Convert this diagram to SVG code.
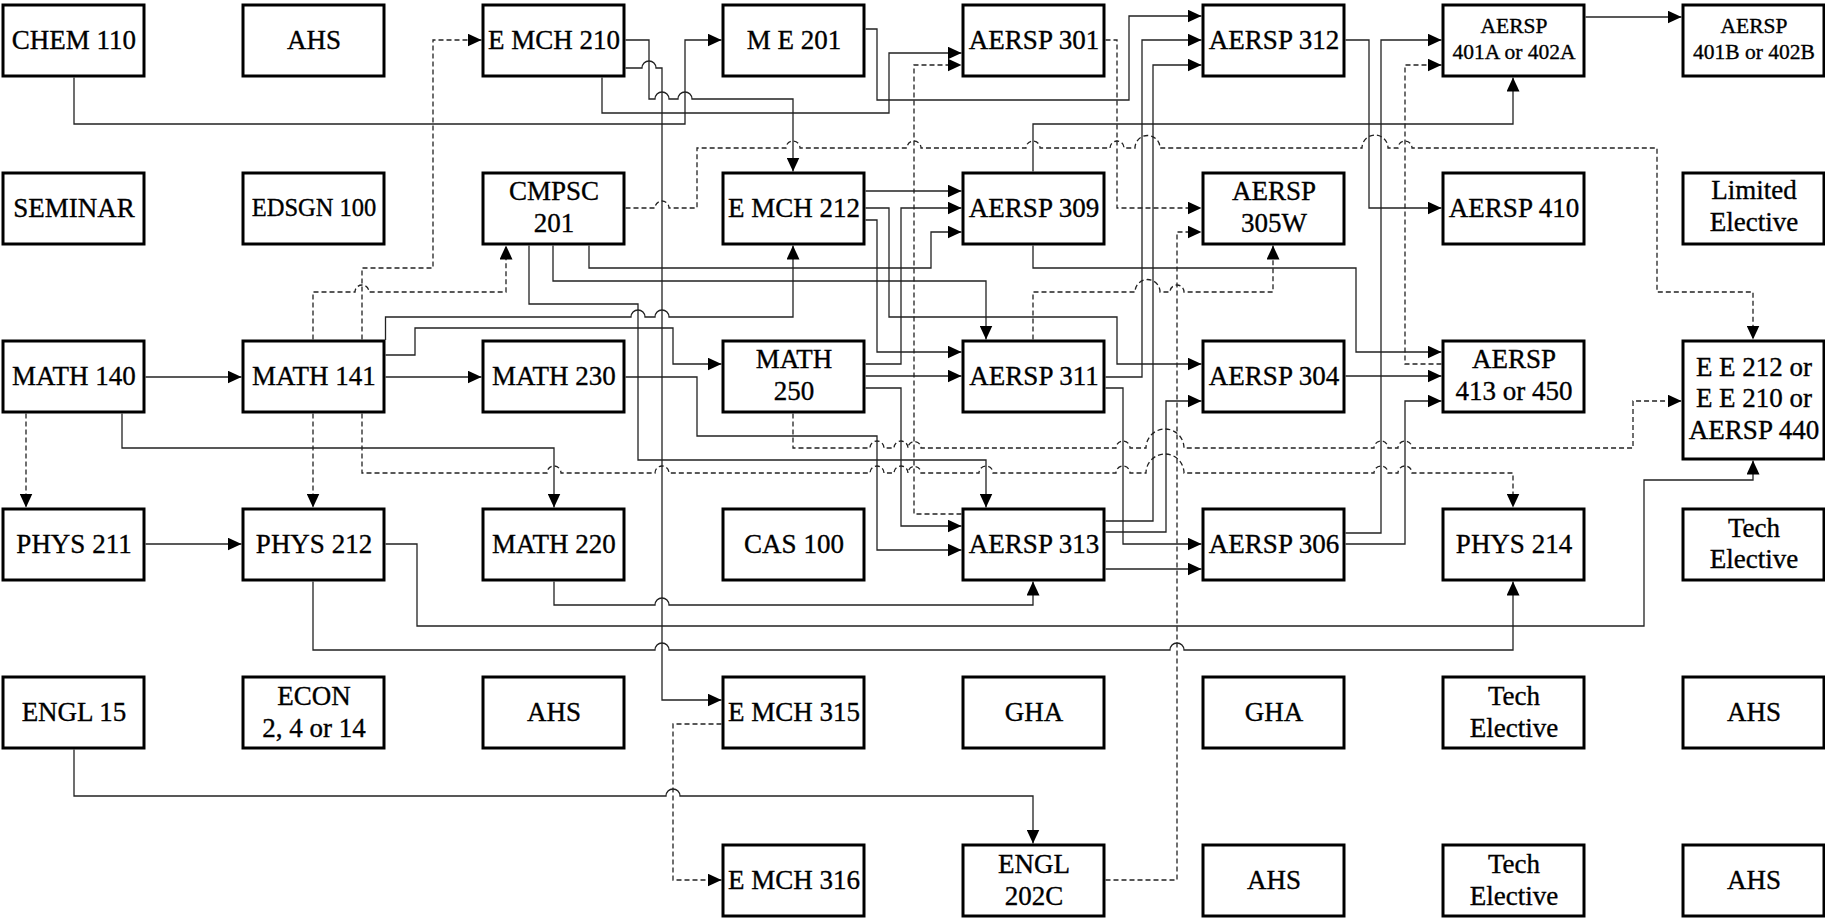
<svg xmlns="http://www.w3.org/2000/svg" width="1825" height="920" viewBox="0 0 1825 920">
<style>
.n rect{fill:#fff;stroke:#000;stroke-width:3}
.n text{font-family:'Liberation Serif','Times New Roman',Times,serif;font-size:27px;fill:#000;stroke:#000;stroke-width:0.35;text-anchor:middle}
.n text.s{font-size:21.5px}
.n text.m{font-size:24.5px}
#conn path{fill:none;stroke:#222;stroke-width:1.3}
#conn path.d{stroke-dasharray:5,3}
#conn path.a{marker-end:url(#ah)}
</style>
<defs>
<marker id="ah" markerUnits="userSpaceOnUse" markerWidth="14" markerHeight="13" refX="14" refY="6.5" orient="auto"><path d="M0,0 L14,6.5 L0,13 z" fill="#000" stroke="none"/></marker>
</defs>
<rect x="0" y="0" width="1825" height="920" fill="#fff"/>
<g id="nodes">
<g class="n" id="chem110"><rect x="3" y="5" width="141" height="71"/><text x="74" y="49">CHEM 110</text></g>
<g class="n" id="ahs1"><rect x="243" y="5" width="141" height="71"/><text x="314" y="49">AHS</text></g>
<g class="n" id="emch210"><rect x="483" y="5" width="141" height="71"/><text x="554" y="49">E MCH 210</text></g>
<g class="n" id="me201"><rect x="723" y="5" width="141" height="71"/><text x="794" y="49">M E 201</text></g>
<g class="n" id="aersp301"><rect x="963" y="5" width="141" height="71"/><text x="1034" y="49">AERSP 301</text></g>
<g class="n" id="aersp312"><rect x="1203" y="5" width="141" height="71"/><text x="1274" y="49">AERSP 312</text></g>
<g class="n" id="aersp401a"><rect x="1443" y="5" width="141" height="71"/><text class="s" x="1514" y="33">AERSP</text><text class="s" x="1514" y="59">401A or 402A</text></g>
<g class="n" id="aersp401b"><rect x="1683" y="5" width="141" height="71"/><text class="s" x="1754" y="33">AERSP</text><text class="s" x="1754" y="59">401B or 402B</text></g>

<g class="n" id="seminar"><rect x="3" y="173" width="141" height="71"/><text x="74" y="217">SEMINAR</text></g>
<g class="n" id="edsgn100"><rect x="243" y="173" width="141" height="71"/><text class="m" x="314" y="216">EDSGN 100</text></g>
<g class="n" id="cmpsc201"><rect x="483" y="173" width="141" height="71"/><text x="554" y="200">CMPSC</text><text x="554" y="232">201</text></g>
<g class="n" id="emch212"><rect x="723" y="173" width="141" height="71"/><text x="794" y="217">E MCH 212</text></g>
<g class="n" id="aersp309"><rect x="963" y="173" width="141" height="71"/><text x="1034" y="217">AERSP 309</text></g>
<g class="n" id="aersp305w"><rect x="1203" y="173" width="141" height="71"/><text x="1274" y="200">AERSP</text><text x="1274" y="232">305W</text></g>
<g class="n" id="aersp410"><rect x="1443" y="173" width="141" height="71"/><text x="1514" y="217">AERSP 410</text></g>
<g class="n" id="limited"><rect x="1683" y="173" width="141" height="71"/><text x="1754" y="199">Limited</text><text x="1754" y="231">Elective</text></g>

<g class="n" id="math140"><rect x="3" y="341" width="141" height="71"/><text x="74" y="385">MATH 140</text></g>
<g class="n" id="math141"><rect x="243" y="341" width="141" height="71"/><text x="314" y="385">MATH 141</text></g>
<g class="n" id="math230"><rect x="483" y="341" width="141" height="71"/><text x="554" y="385">MATH 230</text></g>
<g class="n" id="math250"><rect x="723" y="341" width="141" height="71"/><text x="794" y="368">MATH</text><text x="794" y="400">250</text></g>
<g class="n" id="aersp311"><rect x="963" y="341" width="141" height="71"/><text x="1034" y="385">AERSP 311</text></g>
<g class="n" id="aersp304"><rect x="1203" y="341" width="141" height="71"/><text x="1274" y="385">AERSP 304</text></g>
<g class="n" id="aersp413"><rect x="1443" y="341" width="141" height="71"/><text x="1514" y="368">AERSP</text><text x="1514" y="400">413 or 450</text></g>
<g class="n" id="ee212"><rect x="1683" y="341" width="141" height="118"/><text x="1754" y="376">E E 212 or</text><text x="1754" y="407">E E 210 or</text><text x="1754" y="439">AERSP 440</text></g>

<g class="n" id="phys211"><rect x="3" y="509" width="141" height="71"/><text x="74" y="553">PHYS 211</text></g>
<g class="n" id="phys212"><rect x="243" y="509" width="141" height="71"/><text x="314" y="553">PHYS 212</text></g>
<g class="n" id="math220"><rect x="483" y="509" width="141" height="71"/><text x="554" y="553">MATH 220</text></g>
<g class="n" id="cas100"><rect x="723" y="509" width="141" height="71"/><text x="794" y="553">CAS 100</text></g>
<g class="n" id="aersp313"><rect x="963" y="509" width="141" height="71"/><text x="1034" y="553">AERSP 313</text></g>
<g class="n" id="aersp306"><rect x="1203" y="509" width="141" height="71"/><text x="1274" y="553">AERSP 306</text></g>
<g class="n" id="phys214"><rect x="1443" y="509" width="141" height="71"/><text x="1514" y="553">PHYS 214</text></g>
<g class="n" id="tech1"><rect x="1683" y="509" width="141" height="71"/><text x="1754" y="537">Tech</text><text x="1754" y="568">Elective</text></g>

<g class="n" id="engl15"><rect x="3" y="677" width="141" height="71"/><text x="74" y="721">ENGL 15</text></g>
<g class="n" id="econ"><rect x="243" y="677" width="141" height="71"/><text x="314" y="705">ECON</text><text x="314" y="737">2, 4 or 14</text></g>
<g class="n" id="ahs2"><rect x="483" y="677" width="141" height="71"/><text x="554" y="721">AHS</text></g>
<g class="n" id="emch315"><rect x="723" y="677" width="141" height="71"/><text x="794" y="721">E MCH 315</text></g>
<g class="n" id="gha1"><rect x="963" y="677" width="141" height="71"/><text x="1034" y="721">GHA</text></g>
<g class="n" id="gha2"><rect x="1203" y="677" width="141" height="71"/><text x="1274" y="721">GHA</text></g>
<g class="n" id="tech2"><rect x="1443" y="677" width="141" height="71"/><text x="1514" y="705">Tech</text><text x="1514" y="737">Elective</text></g>
<g class="n" id="ahs3"><rect x="1683" y="677" width="141" height="71"/><text x="1754" y="721">AHS</text></g>

<g class="n" id="emch316"><rect x="723" y="845" width="141" height="71"/><text x="794" y="889">E MCH 316</text></g>
<g class="n" id="engl202c"><rect x="963" y="845" width="141" height="71"/><text x="1034" y="873">ENGL</text><text x="1034" y="905">202C</text></g>
<g class="n" id="ahs4"><rect x="1203" y="845" width="141" height="71"/><text x="1274" y="889">AHS</text></g>
<g class="n" id="tech3"><rect x="1443" y="845" width="141" height="71"/><text x="1514" y="873">Tech</text><text x="1514" y="905">Elective</text></g>
<g class="n" id="ahs5"><rect x="1683" y="845" width="141" height="71"/><text x="1754" y="889">AHS</text></g>
</g>
<g id="conn">
<path class="a" d="M74,77.5 V124 H685 V40 H721.5"/>
<path class="a" d="M625.5,40 H649 V99 H655 A7,7 0 0 1 669,99 H678 A7,7 0 0 1 692,99 H793 V171.5"/>
<path class="a" d="M625.5,68 H642 A7,7 0 0 1 656,68 H662 V700 H721.5"/>
<path class="a" d="M602,77.5 V113 H889 V53 H961.5"/>
<path class="a" d="M865.5,29 H877 V100 H1129 V16 H1201.5"/>
<path class="a" d="M865.5,191 H961.5"/>
<path class="a" d="M865.5,208 H889 V317 H1117 V364 H1201.5"/>
<path class="a" d="M865.5,220 H877 V352 H961.5"/>
<path class="a" d="M865.5,364 H901 V208 H961.5"/>
<path class="a" d="M865.5,376 H961.5"/>
<path class="a" d="M865.5,388 H901 V526 H961.5"/>
<path class="a" d="M145.5,377 H241.5"/>
<path class="a" d="M385.5,377 H481.5"/>
<path class="a" d="M385.5,340 V317 H631 A7,7 0 0 1 645,317 H655 A7,7 0 0 1 669,317 H793 V245.5"/>
<path class="a" d="M385.5,355 H415 V328 H673 V364 H721.5"/>
<path class="a" d="M122,413.5 V448 H554 V507.5"/>
<path class="a" d="M589,245.5 V268 H931 V232 H961.5"/>
<path class="a" d="M553,245.5 V281 H986 V339.5"/>
<path class="a" d="M529,245.5 V304 H638 V460 H986 V507.5"/>
<path class="a" d="M625.5,377 H697 V436 H877 V550 H961.5"/>
<path class="a" d="M554,581.5 V605 H655 A7,7 0 0 1 669,605 H1033 V581.5"/>
<path class="a" d="M1033,171.5 V124 H1513 V77.5"/>
<path class="a" d="M1033,245.5 V268 H1356 V352 H1441.5"/>
<path class="a" d="M1345.5,40 H1369 V208 H1441.5"/>
<path class="a" d="M1585.5,17 H1681.5"/>
<path class="a" d="M1105.5,377 H1142 V40 H1201.5"/>
<path class="a" d="M1105.5,388 H1123 V544 H1201.5"/>
<path class="a" d="M1105.5,521 H1153 V65 H1201.5"/>
<path class="a" d="M1105.5,532 H1166 V401 H1201.5"/>
<path class="a" d="M1105.5,569 H1201.5"/>
<path class="a" d="M1345.5,376 H1441.5"/>
<path class="a" d="M1345.5,533 H1381 V40 H1441.5"/>
<path class="a" d="M1345.5,544 H1405 V401 H1441.5"/>
<path class="a" d="M145.5,544 H241.5"/>
<path class="a" d="M385.5,544 H417 V626 H1644 V480 H1753 V460.5"/>
<path class="a" d="M313,581.5 V650 H655 A7,7 0 0 1 669,650 H1170 A7,7 0 0 1 1184,650 H1513 V581.5"/>
<path class="a" d="M74,749.5 V796 H666 A7,7 0 0 1 680,796 H1033 V843.5"/>

<path class="d a" d="M362,339.5 V268 H433 V40 H481.5"/>
<path class="d a" d="M313,339.5 V292 H355 A7,7 0 0 1 369,292 H506 V245.5"/>
<path class="d a" d="M313,413.5 V507.5"/>
<path class="d a" d="M26,413.5 V507.5"/>
<path class="d a" d="M362,413.5 V473 H547 A7,7 0 0 1 561,473 H655 A7,7 0 0 1 669,473 H870 A7,7 0 0 1 884,473 H894 A7,7 0 0 1 908,473 A6.5,6.5 0 0 1 921,473 H979 A7,7 0 0 1 993,473 H1116 A7,7 0 0 1 1130,473 H1146 A19,19 0 0 1 1184,473 H1374 A7,7 0 0 1 1388,473 H1398 A7,7 0 0 1 1412,473 H1513 V507.5"/>
<path class="d a" d="M793,413.5 V448 H870 A7,7 0 0 1 884,448 H894 A7,7 0 0 1 908,448 A6.5,6.5 0 0 1 921,448 H1116 A7,7 0 0 1 1130,448 H1146 A19,19 0 0 1 1184,448 H1374 A7,7 0 0 1 1388,448 H1398 A7,7 0 0 1 1412,448 H1633 V401 H1681.5"/>
<path class="d a" d="M625.5,208 H655 A7,7 0 0 1 669,208 H697 V148 H786 A7,7 0 0 1 800,148 H907 A7,7 0 0 1 921,148 H1026 A7,7 0 0 1 1040,148 H1110 A7,7 0 0 1 1124,148 H1135 A12.5,12.5 0 0 1 1160,148 H1362 A13,13 0 0 1 1388,148 H1398 A7,7 0 0 1 1412,148 H1657 V292 H1753 V339.5"/>
<path class="d a" d="M1105.5,40 H1117 V208 H1201.5"/>
<path class="d a" d="M961.5,514 H914 V65 H961.5"/>
<path class="d a" d="M1105.5,880 H1177 V232 H1201.5"/>
<path class="d a" d="M1033,339.5 V292 H1135 A12.5,12.5 0 0 1 1160,292 H1170 A7,7 0 0 1 1184,292 H1273 V245.5"/>
<path class="d a" d="M1441.5,364 H1405 V65 H1441.5"/>
<path class="d a" d="M721.5,724 H673 V880 H721.5"/>
</g>
</svg>
